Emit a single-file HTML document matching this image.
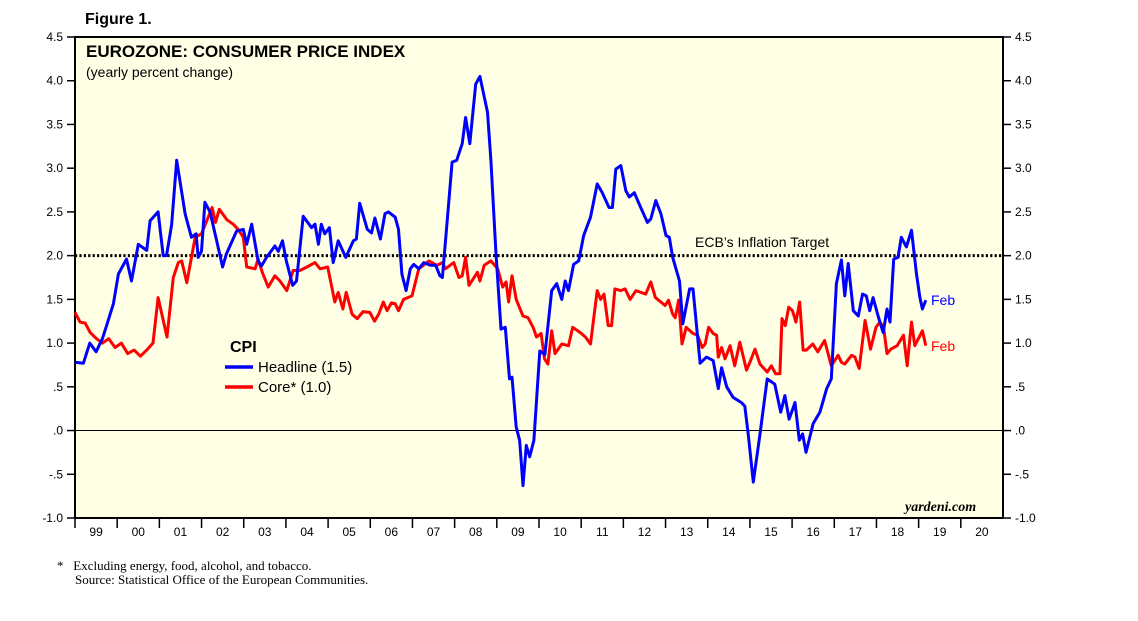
<!DOCTYPE html>
<html><head><meta charset="utf-8"><style>
body{margin:0;background:#fff;}
svg{display:block;font-family:"Liberation Sans",sans-serif;}
</style></head><body>
<svg id="c" width="1138" height="621" xmlns="http://www.w3.org/2000/svg">
<text x="85" y="24" font-size="16" font-weight="bold">Figure 1.</text>
<rect x="75" y="37" width="928" height="481" fill="#ffffe6" stroke="#000" stroke-width="2"/>
<text x="86" y="57" font-size="17" font-weight="bold">EUROZONE: CONSUMER PRICE INDEX</text>
<text x="86" y="77" font-size="14">(yearly percent change)</text>
<g id="axes"></g>
<g id="series"></g>
<text x="695" y="247" font-size="14">ECB’s Inflation Target</text>
<text x="230" y="352" font-size="16" font-weight="bold">CPI</text>
<line x1="225" y1="367" x2="253" y2="367" stroke="#0000ff" stroke-width="3.5"/>
<text x="258" y="372" font-size="15">Headline (1.5)</text>
<line x1="225" y1="387" x2="253" y2="387" stroke="#ff0000" stroke-width="3.5"/>
<text x="258" y="392" font-size="15">Core* (1.0)</text>
<text x="931" y="305" font-size="14" fill="#0000ff">Feb</text>
<text x="931" y="351" font-size="14" fill="#ff0000">Feb</text>
<text x="905" y="511" font-size="14" font-style="italic" font-weight="bold" font-family="Liberation Serif, serif">yardeni.com</text>
<text x="57" y="570" font-size="13" font-family="Liberation Serif, serif">*&#160;&#160;&#160;Excluding energy, food, alcohol, and tobacco.</text>
<text x="75" y="584" font-size="13" font-family="Liberation Serif, serif">Source: Statistical Office of the European Communities.</text>
</svg>
<script>
const yTicks=[4.5,4.0,3.5,3.0,2.5,2.0,1.5,1.0,0.5,0.0,-0.5,-1.0];
const yTickLabels=["4.5","4.0","3.5","3.0","2.5","2.0","1.5","1.0",".5",".0","-.5","-1.0"];
const yearLabels=["99","00","01","02","03","04","05","06","07","08","09","10","11","12","13","14","15","16","17","18","19","20"];
const targetValue=2.0;
const headlineDates=[1999.0,1999.2,1999.35,1999.5,1999.65,1999.75,1999.91,2000.03,2000.22,2000.34,2000.5,2000.7,2000.78,2000.97,2001.09,2001.17,2001.29,2001.41,2001.61,2001.76,2001.87,2001.92,2002.0,2002.08,2002.2,2002.36,2002.5,2002.59,2002.71,2002.83,2002.99,2003.07,2003.19,2003.34,2003.42,2003.54,2003.74,2003.82,2003.92,2004.01,2004.16,2004.25,2004.41,2004.61,2004.69,2004.77,2004.84,2004.92,2005.03,2005.12,2005.24,2005.42,2005.6,2005.67,2005.75,2005.93,2006.03,2006.11,2006.24,2006.35,2006.43,2006.59,2006.67,2006.75,2006.85,2006.95,2007.03,2007.15,2007.27,2007.43,2007.55,2007.65,2007.71,2007.83,2007.94,2008.05,2008.18,2008.26,2008.36,2008.5,2008.6,2008.78,2008.86,2008.98,2009.1,2009.2,2009.3,2009.36,2009.46,2009.54,2009.62,2009.7,2009.78,2009.88,2010.02,2010.14,2010.3,2010.42,2010.54,2010.62,2010.7,2010.82,2010.94,2011.06,2011.22,2011.38,2011.5,2011.66,2011.74,2011.82,2011.94,2012.06,2012.14,2012.26,2012.41,2012.57,2012.65,2012.77,2012.89,2013.01,2013.09,2013.17,2013.33,2013.41,2013.57,2013.65,2013.82,2013.97,2014.13,2014.25,2014.33,2014.45,2014.6,2014.8,2014.88,2014.96,2015.08,2015.24,2015.41,2015.59,2015.73,2015.83,2015.93,2016.07,2016.17,2016.25,2016.33,2016.5,2016.66,2016.82,2016.93,2017.05,2017.17,2017.25,2017.33,2017.45,2017.57,2017.67,2017.76,2017.84,2017.92,2018.04,2018.16,2018.25,2018.32,2018.41,2018.51,2018.59,2018.71,2018.83,2018.95,2019.03,2019.09,2019.17];
const headlineValues=[0.78,0.77,1.0,0.9,1.05,1.2,1.45,1.79,1.96,1.71,2.13,2.06,2.4,2.5,2.0,2.0,2.35,3.09,2.48,2.21,2.25,1.98,2.05,2.61,2.5,2.17,1.87,2.02,2.15,2.28,2.3,2.13,2.36,1.94,1.88,1.98,2.11,2.05,2.17,1.94,1.66,1.71,2.45,2.32,2.36,2.13,2.36,2.25,2.32,1.92,2.17,1.98,2.17,2.19,2.6,2.3,2.26,2.43,2.19,2.48,2.5,2.44,2.3,1.79,1.6,1.85,1.9,1.85,1.92,1.89,1.89,1.77,1.75,2.44,3.07,3.09,3.28,3.58,3.28,3.96,4.05,3.64,3.09,2.02,1.16,1.18,0.59,0.61,0.04,-0.11,-0.63,-0.17,-0.3,-0.11,0.91,0.87,1.6,1.68,1.5,1.71,1.6,1.9,1.94,2.23,2.44,2.82,2.72,2.55,2.55,2.99,3.03,2.74,2.67,2.72,2.55,2.38,2.42,2.63,2.48,2.23,2.21,1.98,1.71,1.22,1.62,1.62,0.77,0.84,0.8,0.48,0.72,0.5,0.38,0.32,0.28,-0.04,-0.59,-0.04,0.59,0.53,0.21,0.4,0.13,0.32,-0.11,-0.04,-0.25,0.08,0.21,0.48,0.59,1.68,1.95,1.54,1.91,1.37,1.31,1.56,1.54,1.37,1.52,1.31,1.12,1.39,1.24,1.96,1.98,2.21,2.1,2.29,1.79,1.52,1.39,1.49];
const coreDates=[1999.0,1999.12,1999.24,1999.36,1999.51,1999.65,1999.8,1999.95,2000.1,2000.25,2000.4,2000.55,2000.7,2000.85,2000.97,2001.18,2001.33,2001.45,2001.53,2001.65,2001.85,2002.0,2002.25,2002.33,2002.42,2002.6,2002.75,2002.87,2002.99,2003.07,2003.27,2003.34,2003.44,2003.58,2003.74,2003.86,2004.02,2004.17,2004.33,2004.5,2004.69,2004.81,2004.99,2005.16,2005.24,2005.35,2005.43,2005.57,2005.69,2005.83,2005.99,2006.1,2006.2,2006.31,2006.4,2006.5,2006.59,2006.67,2006.79,2006.99,2007.15,2007.39,2007.58,2007.71,2007.78,2007.98,2008.1,2008.18,2008.26,2008.34,2008.54,2008.6,2008.7,2008.86,2009.02,2009.14,2009.22,2009.28,2009.36,2009.46,2009.62,2009.74,2009.86,2009.94,2010.05,2010.13,2010.21,2010.3,2010.38,2010.54,2010.7,2010.8,2010.98,2011.1,2011.22,2011.38,2011.46,2011.54,2011.64,2011.72,2011.8,2011.94,2012.04,2012.16,2012.3,2012.53,2012.65,2012.76,2012.99,2013.07,2013.17,2013.23,2013.31,2013.39,2013.49,2013.65,2013.76,2013.87,2013.94,2014.02,2014.13,2014.21,2014.25,2014.33,2014.41,2014.53,2014.64,2014.76,2014.92,2015.0,2015.12,2015.24,2015.41,2015.51,2015.61,2015.71,2015.76,2015.84,2015.92,2016.01,2016.09,2016.18,2016.26,2016.34,2016.49,2016.61,2016.77,2016.93,2017.01,2017.09,2017.17,2017.25,2017.41,2017.49,2017.59,2017.73,2017.86,2017.99,2018.08,2018.17,2018.25,2018.34,2018.49,2018.64,2018.73,2018.83,2018.91,2019.09,2019.17];
const coreValues=[1.35,1.24,1.23,1.12,1.05,1.0,1.05,0.95,1.0,0.88,0.92,0.85,0.92,1.0,1.52,1.07,1.75,1.92,1.94,1.69,2.21,2.25,2.55,2.38,2.53,2.41,2.36,2.3,2.21,1.87,1.85,1.96,1.81,1.64,1.77,1.71,1.6,1.83,1.83,1.87,1.92,1.85,1.87,1.47,1.58,1.39,1.58,1.33,1.28,1.36,1.35,1.25,1.33,1.47,1.37,1.46,1.45,1.37,1.5,1.54,1.85,1.94,1.89,1.92,1.85,1.92,1.75,1.77,1.98,1.66,1.81,1.71,1.89,1.94,1.85,1.64,1.7,1.47,1.77,1.5,1.31,1.29,1.18,1.07,1.11,0.82,0.76,1.14,0.88,0.99,0.97,1.18,1.12,1.07,0.99,1.6,1.5,1.56,1.2,1.2,1.62,1.6,1.62,1.5,1.6,1.56,1.7,1.52,1.43,1.49,1.33,1.29,1.49,0.99,1.18,1.11,1.09,0.95,0.99,1.18,1.11,1.09,0.84,0.95,0.82,0.97,0.74,1.01,0.69,0.78,0.93,0.76,0.67,0.74,0.65,0.65,1.28,1.2,1.41,1.37,1.24,1.47,0.92,0.92,0.99,0.9,1.03,0.74,0.8,0.86,0.78,0.76,0.86,0.84,0.71,1.26,0.93,1.18,1.24,1.18,0.88,0.93,0.97,1.09,0.74,1.24,0.97,1.14,0.97,1.18,0.93,0.93,1.09,0.97];

const NS="http://www.w3.org/2000/svg";
const L=75,R=1003,T=37,B=518,yMin=-1,yMax=4.5,x0=1999,x1=2021;
function xS(t){return L+(t-x0)/(x1-x0)*(R-L);}
function yS(v){return B-(v-yMin)/(yMax-yMin)*(B-T);}
function mk(tag,attrs,parent){const e=document.createElementNS(NS,tag);for(const k in attrs)e.setAttribute(k,attrs[k]);parent.appendChild(e);return e;}
const ax=document.getElementById('axes'),sr=document.getElementById('series');
yTicks.forEach((v,i)=>{
  const y=yS(v);
  const tl=mk('line',{x1:L-8,x2:L,y1:y,y2:y,stroke:'#000','stroke-width':1.5},ax);
  
  
  const tr=mk('line',{x1:R,x2:R+8,y1:y,y2:y,stroke:'#000','stroke-width':1.5},ax);
  
  
  const a=mk('text',{x:L-12,y:y+4,'font-size':12,'text-anchor':'end'},ax);a.textContent=yTickLabels[i];
  
  
  const b=mk('text',{x:R+12,y:y+4,'font-size':12},ax);b.textContent=yTickLabels[i];
  
  
});
yearLabels.forEach((lab,i)=>{
  const t=x0+i;
  const tk=mk('line',{x1:xS(t),x2:xS(t),y1:B,y2:B+10,stroke:'#000','stroke-width':1.5},ax);
  
  
  const tx=mk('text',{x:xS(t+0.5),y:B+18,'font-size':12,'text-anchor':'middle'},ax);tx.textContent=lab;
  
  
});
const zl=mk('line',{x1:L,x2:R,y1:yS(0),y2:yS(0),stroke:'#000','stroke-width':1},ax);


const tg=mk('line',{x1:L,x2:R,y1:yS(targetValue),y2:yS(targetValue),stroke:'#000','stroke-width':3,'stroke-dasharray':'2.2 2.2'},ax);


function path(ds,vs){return ds.map((d,i)=>(i?'L':'M')+xS(d).toFixed(1)+' '+yS(vs[i]).toFixed(1)).join(' ');}
const pc=mk('path',{d:path(coreDates,coreValues),fill:'none',stroke:'#ff0000','stroke-width':3,'stroke-linejoin':'round'},sr);


const ph=mk('path',{d:path(headlineDates,headlineValues),fill:'none',stroke:'#0000ff','stroke-width':3,'stroke-linejoin':'round'},sr);


</script>
</body></html>
